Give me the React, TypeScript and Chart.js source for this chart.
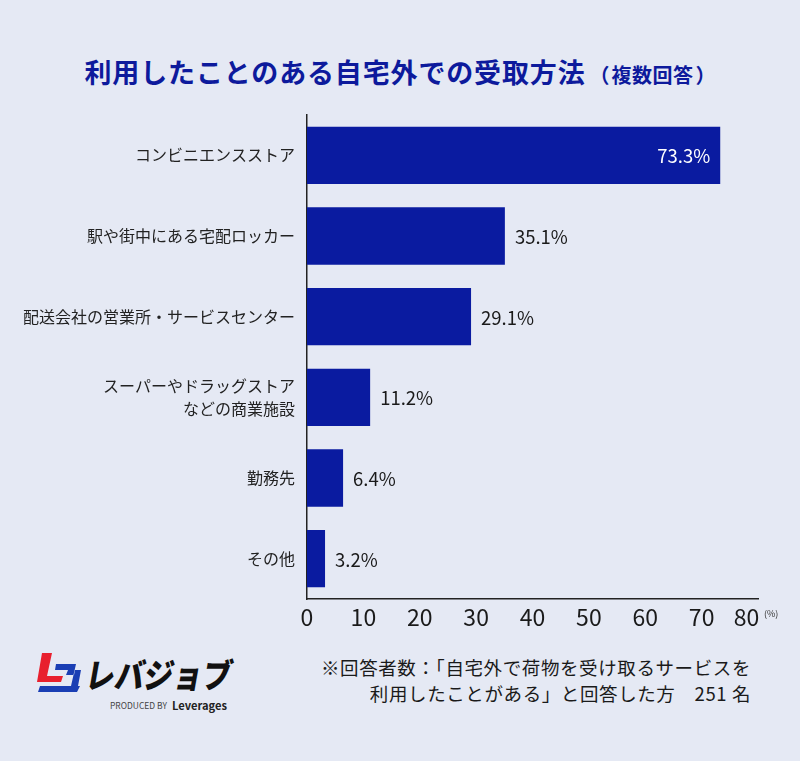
import React, { useEffect, useRef } from "react";
import { Chart, registerables } from "chart.js";

Chart.register(...registerables);

const categories: (string | string[])[] = [
  "コンビニエンスストア",
  "駅や街中にある宅配ロッカー",
  "配送会社の営業所・サービスセンター",
  ["スーパーやドラッグストア", "などの商業施設"],
  "勤務先",
  "その他",
];
const values = [73.3, 35.1, 29.1, 11.2, 6.4, 3.2];
const xTicks = [0, 10, 20, 30, 40, 50, 60, 70, 80];

const FONT = "'Noto Sans CJK JP', 'Noto Sans', sans-serif";
const BAR = "#0a1ba0";
const BG = "#e5e9f4";

export default function App() {
  const ref = useRef<HTMLCanvasElement | null>(null);

  useEffect(() => {
    if (!ref.current) return;
    const labelPlugin = {
      id: "valueLabels",
      afterDatasetsDraw(chart: any) {
        const ctx = chart.ctx;
        const meta = chart.getDatasetMeta(0);
        ctx.save();
        ctx.font = `18.5px ${FONT}`;
        ctx.textBaseline = "middle";
        meta.data.forEach((el: any, i: number) => {
          const txt = values[i].toFixed(1) + "%";
          if (i === 0) {
            ctx.fillStyle = "#ffffff";
            ctx.textAlign = "right";
            ctx.fillText(txt, el.x - 10, el.y + 1);
          } else {
            ctx.fillStyle = "#1a1a1a";
            ctx.textAlign = "left";
            ctx.fillText(txt, el.x + 10, el.y + 1);
          }
        });
        ctx.restore();
      },
    };
    const chart = new Chart(ref.current, {
      type: "bar",
      data: {
        labels: categories,
        datasets: [
          {
            data: values,
            backgroundColor: BAR,
            categoryPercentage: 1,
            barPercentage: 0.71,
          },
        ],
      },
      options: {
        indexAxis: "y",
        animation: false,
        responsive: false,
        maintainAspectRatio: false,
        layout: { padding: { top: 115, right: 42, left: 0, bottom: 0 } },
        plugins: {
          legend: { display: false },
          tooltip: { enabled: false },
          title: { display: false },
        },
        scales: {
          x: {
            min: 0,
            max: 80,
            afterFit: (s: any) => {
              s.height = 41;
            },
            afterBuildTicks: (s: any) => {
              s.ticks = xTicks.map((v) => ({ value: v }));
            },
            grid: { display: false },
            border: { display: true, color: "#222", width: 1.5 },
            ticks: {
              color: "#1a1a1a",
              font: { family: FONT, size: 23 },
              padding: -4,
              maxRotation: 0,
              callback: (v: any) => (v === 80 ? "80\u2003" : String(v)),
            },
          },
          y: {
            afterFit: (s: any) => {
              s.width = 307;
            },
            grid: { display: false },
            border: { display: true, color: "#222", width: 1.5 },
            ticks: {
              color: "#222",
              font: { family: FONT, size: 16, lineHeight: 1.4 },
              padding: 4,
            },
          },
        },
      },
      plugins: [labelPlugin],
    });
    return () => chart.destroy();
  }, []);

  return (
    <div
      style={{
        position: "absolute",
        left: 0,
        top: 0,
        width: 800,
        height: 761,
        background: BG,
        fontFamily: FONT,
        overflow: "hidden",
      }}
    >
      <div
        style={{
          position: "absolute",
          left: 0,
          width: 800,
          top: 52,
          textAlign: "center",
          color: "#0d1a9c",
          fontWeight: 700,
          whiteSpace: "nowrap",
          lineHeight: "40px",
        }}
      >
        <span style={{ fontSize: 27, letterSpacing: 0.85 }}>
          利用したことのある自宅外での受取方法
        </span>
        <span style={{ fontSize: 20 }}>
          <span style={{ marginLeft: 4, marginRight: 2 }}>（</span>
          <span style={{ letterSpacing: 0.5 }}>複数回答</span>
          <span style={{ marginLeft: 2 }}>）</span>
        </span>
      </div>
      <canvas
        ref={ref}
        width={800}
        height={640}
        style={{ position: "absolute", left: 0, top: 0, width: 800, height: 640 }}
      />
      <div
        style={{
          position: "absolute",
          left: 764,
          top: 607,
          fontSize: 9,
          color: "#333",
        }}
      >
        (%)
      </div>
      <div
        style={{
          position: "absolute",
          right: 49,
          top: 654,
          textAlign: "right",
          fontSize: 18.5,
          lineHeight: "26px",
          color: "#1a1a1a",
          letterSpacing: 0.6,
          whiteSpace: "nowrap",
        }}
      >
        <div>※回答者数：「自宅外で荷物を受け取るサービスを</div>
        <div>利用したことがある」と回答した方　251 名</div>
      </div>
      <svg
        width={240}
        height={75}
        style={{ position: "absolute", left: 30, top: 648 }}
        viewBox="0 0 240 75"
      >
        <polygon points="12,5 22,5 17,28 33,28 31,34 7,34" fill="#e8202e" />
        <polygon points="26,16 46,16 41,38 10,38 8,44 40,44 47,44 50,38 48,38 51,22 45,22 44,27 36,27 38,22 25,22" fill="#1a3eb4" />
        <text
          x={54}
          y={40}
          fontSize={34}
          fontWeight={900}
          fill="#111"
          fontFamily={FONT}
          textLength={146}
          lengthAdjust="spacingAndGlyphs"
          transform="skewX(-10) translate(7,0)"
        >
          レバジョブ
        </text>
        <text
          x={80}
          y={61}
          fontSize={8.5}
          fill="#444"
          fontFamily={FONT}
          textLength={57}
          lengthAdjust="spacingAndGlyphs"
        >
          PRODUCED BY
        </text>
        <text
          x={142}
          y={62}
          fontSize={11}
          fontWeight={700}
          fill="#222"
          fontFamily={FONT}
          textLength={55}
          lengthAdjust="spacingAndGlyphs"
        >
          Leverages
        </text>
      </svg>
    </div>
  );
}
